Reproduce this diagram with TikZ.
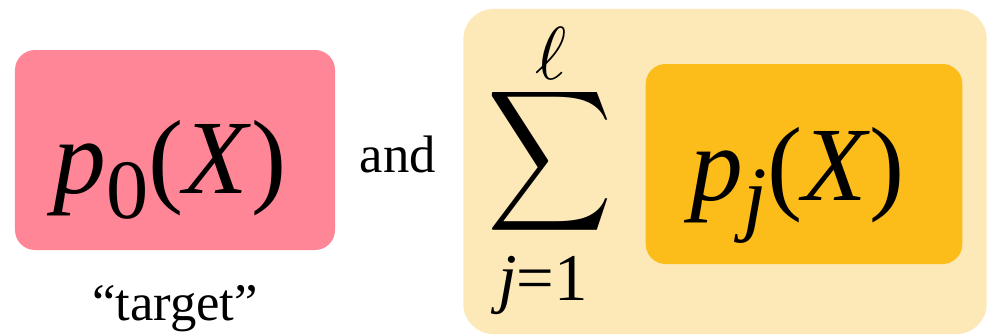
\documentclass[tikz,border=0pt]{standalone}
\usepackage{fontspec}
\setmainfont{Liberation Serif}
\usetikzlibrary{positioning}
\definecolor{tgTarget}{HTML}{FF8696}
\definecolor{tgSumBg}{HTML}{FDE8B8}
\definecolor{tgPart}{HTML}{FCBD1B}
% a density p_sub(X), set in the serif text font
\newcommand{\dens}[1]{\textit{p}\raisebox{-2.4pt}{\fontsize{8}{8}\selectfont #1}(\textit{X})}
\tikzset{
  tgbox/.style={rounded corners=6mm, inner sep=0pt},
  targetbox/.style={tgbox, fill=tgTarget, minimum width=96mm, minimum height=60mm},
  partbox/.style={tgbox, fill=tgPart, minimum width=95mm, minimum height=60mm},
  sumbg/.style={tgbox, fill=tgSumBg, rounded corners=9mm, minimum width=157mm, minimum height=97.5mm},
  bigtext/.style={inner sep=0pt, anchor=base, scale=9},
  word/.style={inner sep=0pt, anchor=base, scale=4.5}
}
\begin{document}
\begin{tikzpicture}[x=0.3mm, y=-0.3mm]
  \useasboundingbox (0,0) rectangle (988,335);
  % left: the target density
  \node[targetbox] (target) at (175,150) {};
  \node[bigtext] (tfun) at (170,193) {\dens{0}};
  \node[word] (tlabel) at (175,320) {``target''};
  \node[word] (andw) at (398,172) {and};
  % right: the sum of parts
  \node[sumbg] (sumbox) at (725,171.5) {};
  \node[partbox] (part) at (804,164) {};
  \node[bigtext] (pfun) at (798,200) {\dens{\textit{j}}};
  \node[inner sep=0pt] (sigma) at (550,161) {\scalebox{7.4}[8.4]{$\displaystyle\sum$}};
  \node[inner sep=0pt, scale=6.4] (supl) at (551,53) {$\ell$};
  \node[word, scale=5.7/4.5] (subj) at (543,300) {\textit{j}=1};
\end{tikzpicture}
\end{document}
